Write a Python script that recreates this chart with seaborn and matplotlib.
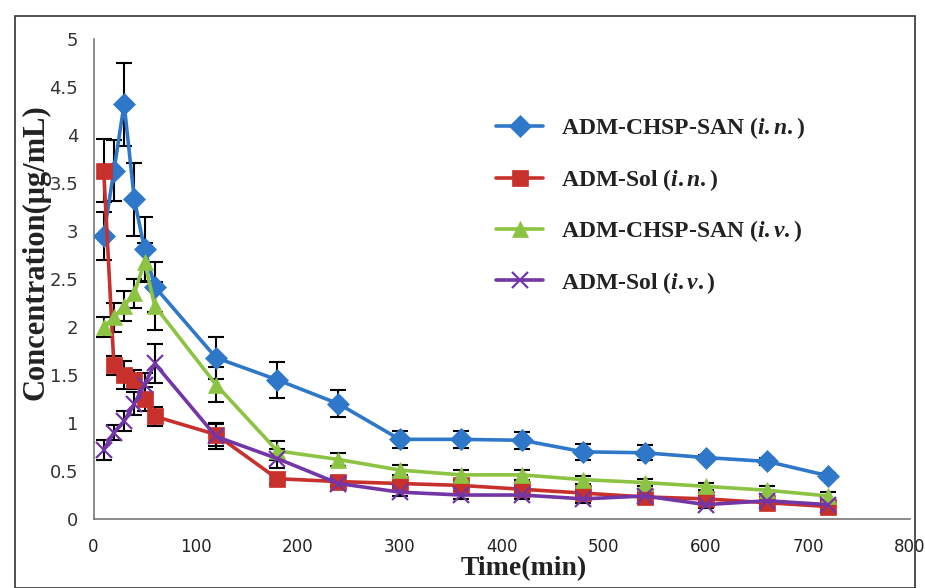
import matplotlib
matplotlib.use("Agg")
import matplotlib.pyplot as plt
from matplotlib.patches import Rectangle
import numpy as np
import pandas as pd
import seaborn as sns

# time points (min)
time_min = [10, 20, 30, 40, 50, 60, 120, 180, 240, 300, 360, 420, 480, 540, 600, 660, 720]

series_names = [
    r"ADM-CHSP-SAN ($\mathit{i.n.}$)",
    r"ADM-Sol ($\mathit{i.n.}$)",
    r"ADM-CHSP-SAN ($\mathit{i.v.}$)",
    r"ADM-Sol ($\mathit{i.v.}$)",
]

chsp_in = [2.95, 3.63, 4.32, 3.33, 2.81, 2.42, 1.68, 1.45, 1.20, 0.83, 0.83, 0.82, 0.70, 0.69, 0.64, 0.60, 0.45]
chsp_in_err = [0.25, 0.32, 0.43, 0.38, 0.34, 0.26, 0.22, 0.19, 0.14, 0.09, 0.09, 0.09, 0.08, 0.08, 0.03, 0.04, 0.03]

sol_in = [3.63, 1.60, 1.50, 1.45, 1.25, 1.07, 0.88, 0.42, 0.39, 0.37, 0.35, 0.31, 0.27, 0.23, 0.21, 0.17, 0.13]
sol_in_err = [0.33, 0.10, 0.15, 0.10, 0.12, 0.10, 0.12, 0.05, 0.04, 0.03, 0.03, 0.03, 0.03, 0.03, 0.03, 0.03, 0.03]

chsp_iv = [2.00, 2.10, 2.22, 2.35, 2.68, 2.22, 1.40, 0.71, 0.62, 0.51, 0.46, 0.46, 0.41, 0.38, 0.34, 0.30, 0.24]
chsp_iv_err = [0.10, 0.15, 0.16, 0.15, 0.20, 0.25, 0.18, 0.10, 0.07, 0.05, 0.05, 0.05, 0.04, 0.04, 0.04, 0.04, 0.04]

sol_iv = [0.72, 0.90, 1.02, 1.20, 1.40, 1.62, 0.86, 0.63, 0.37, 0.28, 0.25, 0.25, 0.21, 0.24, 0.15, 0.19, 0.15]
sol_iv_err = [0.10, 0.08, 0.10, 0.12, 0.12, 0.20, 0.13, 0.10, 0.04, 0.04, 0.04, 0.04, 0.04, 0.04, 0.04, 0.04, 0.04]

colors = ["#2F78C9", "#C8302B", "#8CC342", "#7236A6"]
markers = ["D", "s", "^", "x"]
msizes = [11, 12, 12, 11]

values = [chsp_in, sol_in, chsp_iv, sol_iv]
errors = [chsp_in_err, sol_in_err, chsp_iv_err, sol_iv_err]

df = pd.concat([
    pd.DataFrame({"time": time_min, "conc": v, "err": e, "group": n})
    for n, v, e in zip(series_names, values, errors)
], ignore_index=True)

sns.set_style("white")
plt.rcParams["mathtext.fontset"] = "custom"
plt.rcParams["mathtext.it"] = "Liberation Serif:italic:bold"
plt.rcParams["mathtext.rm"] = "Liberation Serif:bold"

fig = plt.figure(figsize=(9.25, 5.88), dpi=100)
ax = fig.add_axes([0.1011, 0.1173, 0.8827, 0.8164])

# error bars behind the lines
for name in series_names:
    sub = df[df["group"] == name]
    ax.errorbar(sub["time"], sub["conc"], yerr=sub["err"], fmt="none",
                ecolor="black", elinewidth=1.5, capsize=6, capthick=1.5, zorder=1)

for name, c, m, ms in zip(series_names, colors, markers, msizes):
    sub = df[df["group"] == name]
    sns.lineplot(data=sub, x="time", y="conc", color=c, marker=m, markersize=ms,
                 markeredgecolor=c, markeredgewidth=1.6 if m == "x" else 0.5,
                 linewidth=2.6, errorbar=None, label=name, ax=ax, zorder=3)

ax.set_xlim(0, 800)
ax.set_ylim(0, 5)
ax.set_xticks(np.arange(0, 801, 100))
ax.set_yticks(np.arange(0, 5.01, 0.5))
ax.set_yticklabels(["0", "0.5", "1", "1.5", "2", "2.5", "3", "3.5", "4", "4.5", "5"])

for s in ["top", "right"]:
    ax.spines[s].set_visible(False)
for s in ["left", "bottom"]:
    ax.spines[s].set_color("#777777")
    ax.spines[s].set_linewidth(1.2)

ax.tick_params(axis="both", direction="out", length=6, width=1.2, color="#777777")
ax.tick_params(axis="y", labelsize=13, labelcolor="#333333", pad=5)
ax.tick_params(axis="x", labelsize=12, labelcolor="#222222", pad=8)

ax.set_xlabel("Time(min)", fontsize=20, fontweight="bold", family="Liberation Serif",
              color="#222222")
ax.set_ylabel("Concentration(μg/mL)", fontsize=22, fontweight="bold", family="Liberation Serif",
              color="#222222")
ax.xaxis.set_label_coords(0.527, -0.078)
ax.yaxis.set_label_coords(-0.053, 0.556)

leg = ax.legend(loc="upper left", bbox_to_anchor=(0.467, 0.885), frameon=False,
                prop={"family": "Liberation Serif", "weight": "bold", "size": 17},
                handlelength=2.0, labelspacing=1.08, handletextpad=0.75)
for t in leg.get_texts():
    t.set_color("#222222")

fig.patches.append(Rectangle((15 / 925, 0), 900 / 925, 1 - 16 / 588, transform=fig.transFigure,
                             fill=False, edgecolor="#333333", linewidth=1.2))

fig.savefig("out.png", dpi=100)
